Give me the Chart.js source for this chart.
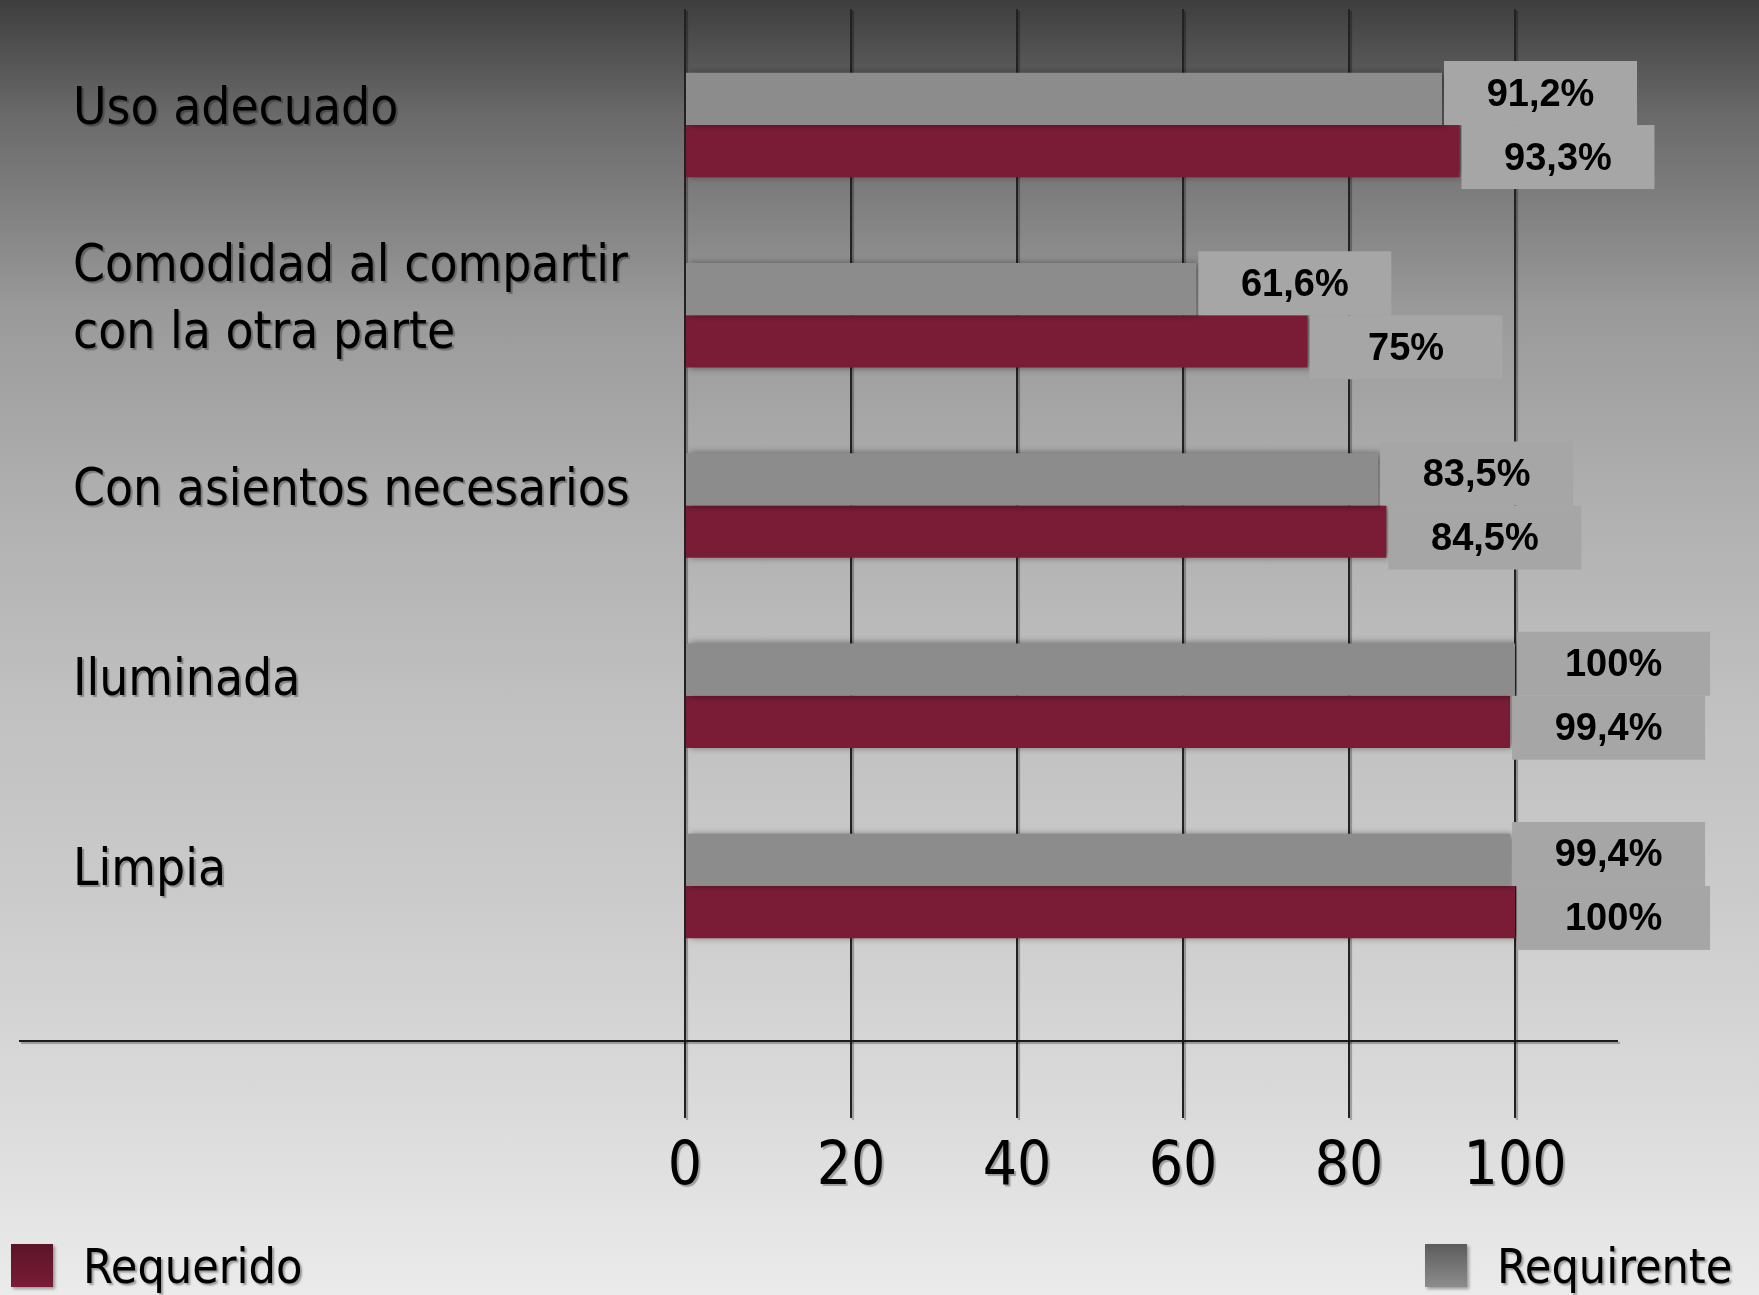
<!DOCTYPE html>
<html>
<head>
<meta charset="utf-8">
<script src="https://cdn.jsdelivr.net/npm/chart.js@4.4.1/dist/chart.umd.min.js"></script>
<style>
  body { margin: 0; }
  #wrap {
    position: relative; width: 1759px; height: 1295px; overflow: hidden;
    background: linear-gradient(to bottom, #3e3e3e 0%, #6a6a6a 9%, #9a9a9a 24%, #b0b0b0 39%, #c0c0c0 54%, #cacaca 68%, #dcdcdc 87%, #ebebeb 100%);
    font-family: "Liberation Sans Narrow", "DejaVu Sans Condensed", sans-serif;
  }
  .leg { position: absolute; top: 1238px; font-size: 48px; color: #000; white-space: nowrap; text-shadow: 2px 2px 2px rgba(0,0,0,0.35); line-height: 56px; }
  .leg span { display: inline-block; width: 42px; height: 43px; vertical-align: -4px; margin-right: 30px; box-shadow: 2px 2px 3px rgba(0,0,0,0.35); }
</style>
</head>
<body>
<div id="wrap">
  <canvas id="chart"></canvas>
  <div class="leg" style="left:11px"><span style="background:linear-gradient(#5a1428,#7a1c36)"></span>Requerido</div>
  <div class="leg" style="left:1425px"><span style="background:linear-gradient(#5c5c5c,#8c8c8c)"></span>Requirente</div>
</div>
<script>
// categories, top to bottom
const categories = ['Uso adecuado', ['Comodidad al compartir', 'con la otra parte'], 'Con asientos necesarios', 'Iluminada', 'Limpia'];
const requirente = [91.2, 61.6, 83.5, 100, 99.4];
const requerido = [93.3, 75, 84.5, 99.4, 100];
const xTicks = [0, 20, 40, 60, 80, 100];

const font = '"Liberation Sans Narrow", "DejaVu Sans Condensed", sans-serif';

function pct(v) {
    return String(v).replace('.', ',') + '%';
}

const shadows = {
    id: 'shadows',
    beforeDraw(chart) {
        const ctx = chart.ctx;
        ctx.shadowColor = 'rgba(0,0,0,0.3)';
        ctx.shadowOffsetX = 2;
        ctx.shadowOffsetY = 2;
        ctx.shadowBlur = 1;
    },
    beforeDatasetsDraw(chart) {
        const ctx = chart.ctx;
        const a = chart.chartArea;
        // long bottom line, runs past the plot to the left
        ctx.save();
        ctx.strokeStyle = '#1a1a1a';
        ctx.lineWidth = 2;
        ctx.beginPath();
        ctx.moveTo(19, a.bottom);
        ctx.lineTo(a.right, a.bottom);
        ctx.stroke();
        ctx.restore();
        ctx.shadowColor = 'rgba(0,0,0,0.45)';
        ctx.shadowOffsetX = 3;
        ctx.shadowOffsetY = 0;
        ctx.shadowBlur = 7;
    },
    afterDatasetsDraw(chart) {
        const ctx = chart.ctx;
        ctx.shadowColor = 'transparent';
        ctx.shadowBlur = 0;
        ctx.shadowOffsetX = 0;
        ctx.shadowOffsetY = 0;
        const w = 193, h = 64;
        chart.data.datasets.forEach((ds, di) => {
            chart.getDatasetMeta(di).data.forEach((bar, i) => {
                const top = di === 0 ? bar.y + bar.height / 2 - h : bar.y - bar.height / 2;
                const left = bar.x + 2;
                ctx.fillStyle = '#a6a6a6';
                ctx.fillRect(left, top, w, h);
                ctx.fillStyle = '#000';
                ctx.font = 'bold 38px "Liberation Sans", Arial, sans-serif';
                ctx.textAlign = 'center';
                ctx.textBaseline = 'middle';
                ctx.fillText(pct(ds.data[i].x), left + w / 2, top + h / 2 + 2);
            });
        });
    }
};

const ctx = document.getElementById('chart').getContext('2d');
new Chart(ctx, {
    type: 'bar',
    data: {
        datasets: [{
            label: 'Requirente',
            data: requirente.map((v, i) => ({ x: v, y: i })),
            backgroundColor: '#8c8c8c'
        }, {
            label: 'Requerido',
            data: requerido.map((v, i) => ({ x: v, y: i })),
            backgroundColor: '#7a1c36'
        }]
    },
    options: {
        indexAxis: 'y',
        responsive: true,
        maintainAspectRatio: false,
        animation: false,
        categoryPercentage: 0.55,
        barPercentage: 1,
        layout: { padding: { left: 73, right: 141, top: 9, bottom: 0 } },
        plugins: { legend: { display: false }, tooltip: { enabled: false } },
        scales: {
            x: {
                type: 'linear',
                min: 0,
                max: 112.4,
                afterFit: s => { s.height = 254; s.paddingLeft = 0; s.paddingRight = 0; },
                afterBuildTicks: s => { s.ticks = xTicks.map(v => ({ value: v })); },
                grid: { color: '#222', lineWidth: 2, tickLength: 77, drawOnChartArea: true },
                border: { display: false },
                ticks: { color: '#000', padding: 14, font: { family: font, size: 60 } }
            },
            y: {
                type: 'linear',
                reverse: true,
                offset: false,
                min: -0.61,
                max: 4.815,
                afterFit: s => { s.width = 612; s.paddingTop = 0; s.paddingBottom = 0; },
                afterBuildTicks: s => { s.ticks = categories.map((c, i) => ({ value: i })); },
                grid: { display: false, offset: false },
                border: { display: false },
                ticks: {
                    color: '#000',
                    crossAlign: 'far',
                    labelOffset: -14,
                    font: { family: font, size: 51, lineHeight: 1.3 },
                    callback: v => categories[v]
                }
            }
        }
    },
    plugins: [shadows]
});
</script>
</body>
</html>
